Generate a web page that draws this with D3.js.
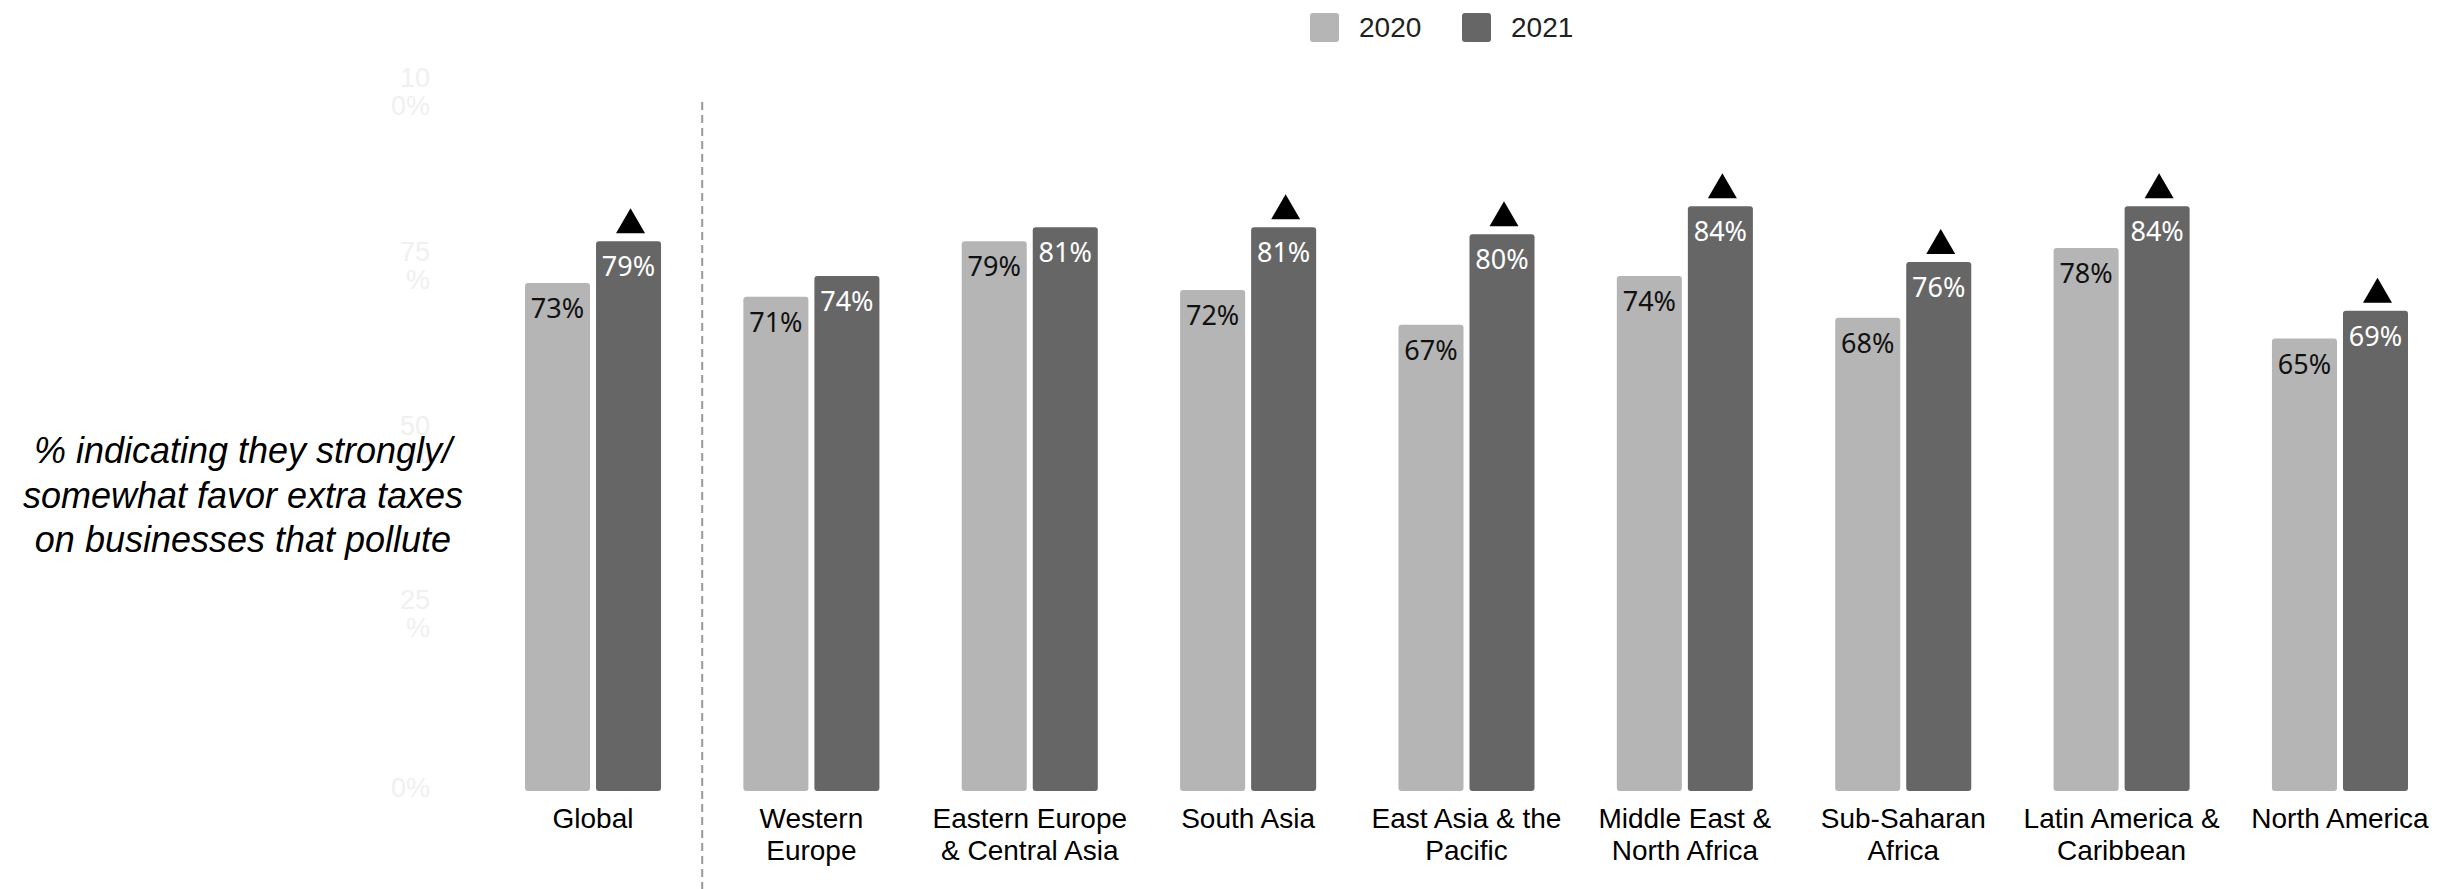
<!DOCTYPE html>
<html>
<head>
<meta charset="utf-8">
<script src="https://cdn.jsdelivr.net/npm/d3@7"></script>
<style>
html,body{margin:0;padding:0;background:#fff;}
svg{display:block;}
</style>
</head>
<body>
<svg id="chart" width="2437" height="889"></svg>
<script>
const categories = [
  ["Global"],
  ["Western", "Europe"],
  ["Eastern Europe", "& Central Asia"],
  ["South Asia"],
  ["East Asia & the", "Pacific"],
  ["Middle East &", "North Africa"],
  ["Sub-Saharan", "Africa"],
  ["Latin America &", "Caribbean"],
  ["North America"]
];
const categoryKeys = categories.map(c => c.join(" "));
const seriesNames = ["2020", "2021"];
const values2020 = [73, 71, 79, 72, 67, 74, 68, 78, 65];
const values2021 = [79, 74, 81, 81, 80, 84, 76, 84, 69];
const increaseMarker = [true, false, false, true, true, true, true, true, true];
const yTicks = [0, 25, 50, 75, 100];
const yTickLabels = [["0%"], ["25", "%"], ["50", "%"], ["75", "%"], ["10", "0%"]];
const axisTitle = ["% indicating they strongly/", "somewhat favor extra taxes", "on businesses that pollute"];

const colors = {"2020": "#b5b5b5", "2021": "#666666"};
const svg = d3.select("#chart");

const x0 = d3.scaleBand().domain(categoryKeys).range([525, 2408]).paddingInner(0.377).paddingOuter(0);
const x1 = d3.scaleBand().domain(seriesNames).range([0, x0.bandwidth()]).paddingInner(0.0845);
const y = d3.scaleLinear().domain([0, 100]).range([791, 95]);

// y tick labels (very faint)
const tickG = svg.append("g");
yTicks.forEach((t, i) => {
  const lines = yTickLabels[i];
  const txt = tickG.append("text")
    .attr("x", 430)
    .attr("text-anchor", "end")
    .attr("font-family", "Liberation Sans, Arial, sans-serif")
    .attr("font-size", 27)
    .attr("fill", "#f0f0f0");
  const lh = 28;
  const startY = y(t) - (lines.length - 1) * lh / 2 - 3;
  lines.forEach((l, j) => {
    txt.append("tspan").attr("x", 430).attr("y", startY + j * lh).attr("dy", "0.35em").text(l);
  });
});

// axis title
const title = svg.append("text")
  .attr("text-anchor", "middle")
  .attr("font-family", "Liberation Sans, Arial, sans-serif")
  .attr("font-style", "italic")
  .attr("font-size", 36)
  .attr("fill", "#000");
axisTitle.forEach((l, j) => {
  title.append("tspan").attr("x", 243).attr("y", 463 + j * 44.5).text(l);
});

// dashed separator
const sepX = (x0(categoryKeys[0]) + x0.bandwidth() + x0(categoryKeys[1])) / 2;
svg.append("line")
  .attr("x1", sepX).attr("x2", sepX)
  .attr("y1", 102).attr("y2", 889)
  .attr("stroke", "#999").attr("stroke-width", 2)
  .attr("stroke-dasharray", "8,5");

// bars
const data = categoryKeys.map((k, i) => ({key: k, vals: [
  {s: "2020", v: values2020[i]},
  {s: "2021", v: values2021[i]}
], up: increaseMarker[i]}));

const groups = svg.append("g").selectAll("g").data(data).join("g")
  .attr("transform", d => `translate(${x0(d.key)},0)`);

groups.selectAll("rect").data(d => d.vals).join("rect")
  .attr("x", d => x1(d.s))
  .attr("y", d => y(d.v))
  .attr("width", x1.bandwidth())
  .attr("height", d => y(0) - y(d.v))
  .attr("rx", 3)
  .attr("fill", d => colors[d.s]);

groups.selectAll("text.val").data(d => d.vals).join("text")
  .attr("class", "val")
  .attr("x", d => x1(d.s) + x1.bandwidth() / 2)
  .attr("y", d => y(d.v) + 35)
  .attr("text-anchor", "middle")
  .attr("font-family", "Noto Sans, Open Sans, sans-serif")
  .attr("font-size", 27)
  .attr("fill", d => d.s === "2020" ? "#111" : "#fff")
  .text(d => d.v + "%");

// increase triangles
groups.filter(d => d.up).append("path")
  .attr("d", d => {
    const cx = x1("2021") + x1.bandwidth() / 2 + 2;
    const by = y(d.vals[1].v) - 8;
    return `M${cx - 14.5},${by} L${cx + 14.5},${by} L${cx},${by - 25} Z`;
  })
  .attr("fill", "#000");

// category labels
groups.each(function(d, i) {
  const g = d3.select(this);
  const t = g.append("text")
    .attr("text-anchor", "middle")
    .attr("font-family", "Liberation Sans, Arial, sans-serif")
    .attr("font-size", 28)
    .attr("fill", "#000");
  categories[i].forEach((l, j) => {
    t.append("tspan").attr("x", x0.bandwidth() / 2).attr("y", 828 + j * 32).text(l);
  });
});

// legend
const legend = svg.append("g");
const legendItems = [{s: "2020", x: 1310}, {s: "2021", x: 1462}];
legendItems.forEach(li => {
  legend.append("rect").attr("x", li.x).attr("y", 13).attr("width", 29).attr("height", 29)
    .attr("rx", 3).attr("fill", colors[li.s]);
  legend.append("text").attr("x", li.x + 49).attr("y", 37)
    .attr("font-family", "Liberation Sans, Arial, sans-serif")
    .attr("font-size", 28).attr("fill", "#222").text(li.s);
});
</script>
</body>
</html>
